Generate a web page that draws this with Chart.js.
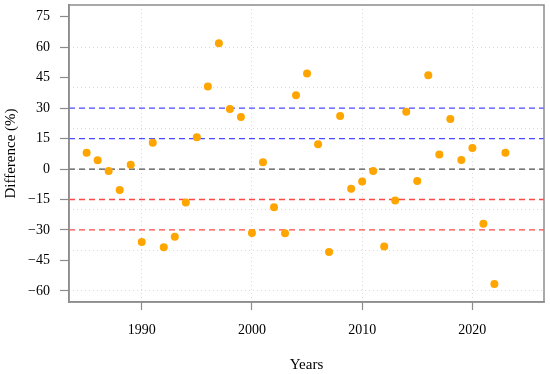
<!DOCTYPE html>
<html>
<head>
<meta charset="utf-8">
<script src="https://cdn.jsdelivr.net/npm/chart.js@4/dist/chart.umd.min.js"></script>
<style>
  html, body { margin: 0; padding: 0; background: #fff; }
  #wrap { width: 550px; height: 374px; }
</style>
</head>
<body>
<div id="wrap"><canvas id="canvas"></canvas></div>
<script>
let years = [1985, 1986, 1987, 1988, 1989, 1990, 1991, 1992, 1993, 1994,
             1995, 1996, 1997, 1998, 1999, 2000, 2001, 2002, 2003, 2004,
             2005, 2006, 2007, 2008, 2009, 2010, 2011, 2012, 2013, 2014,
             2015, 2016, 2017, 2018, 2019, 2020, 2021, 2022, 2023];
let difference = [8.0, 4.3, -1.0, -10.3, 2.1, -36.0, 13.0, -38.5, -33.3, -16.5,
                  15.7, 40.7, 61.9, 29.6, 25.6, -31.5, 3.3, -18.8, -31.6, 36.3,
                  47.1, 12.2, -40.9, 26.1, -9.7, -6.2, -1.0, -38.1, -15.5, 28.2,
                  -5.9, 46.2, 7.2, 24.6, 4.4, 10.3, -26.9, -56.6, 8.0];
let yTicks = [-60, -45, -30, -15, 0, 15, 30, 45, 60, 75];
let yGrid = [-60, -40, -20, 0, 20, 40, 60];
let xTicks = [1990, 2000, 2010, 2020];
let refLines = [
  { value: 30, color: '#4a4aff' },
  { value: 15, color: '#4a4aff' },
  { value: 0, color: '#505050' },
  { value: -15, color: '#ff4848' },
  { value: -30, color: '#ff4848' }
];

let pontos = [];
for (let i = 0; i < years.length; i++) {
  pontos.push({ x: years[i], y: difference[i] });
}

let datasets = [];
for (let i = 0; i < refLines.length; i++) {
  datasets.push({
    type: 'line',
    data: [{ x: 1983.4, y: refLines[i].value }, { x: 2026.5, y: refLines[i].value }],
    borderColor: refLines[i].color,
    borderWidth: 1.3,
    borderDash: [6, 4],
    pointRadius: 0,
    order: 2
  });
}
datasets.push({
  type: 'scatter',
  data: pontos,
  backgroundColor: '#ffa500',
  borderColor: '#ffa500',
  borderWidth: 0,
  pointRadius: 4,
  pointHoverRadius: 4,
  order: 1
});

let serif = "'Liberation Serif', 'DejaVu Serif', serif";

let frame = {
  id: 'frame',
  afterDraw(chart) {
    let a = chart.chartArea;
    let ctx = chart.ctx;
    ctx.save();
    ctx.strokeStyle = '#8c8c8c';
    ctx.lineWidth = 1.5;
    ctx.strokeRect(a.left, a.top, a.right - a.left, a.bottom - a.top);
    ctx.restore();
  }
};

let configuracao = {
  data: { datasets: datasets },
  options: {
    responsive: true,
    maintainAspectRatio: false,
    animation: false,
    layout: { padding: { top: 5, right: 6, left: 0, bottom: 0 } },
    plugins: { legend: { display: false }, tooltip: { enabled: false } },
    scales: {
      x: {
        type: 'linear',
        min: 1983.4,
        max: 2026.5,
        afterBuildTicks: function(scale) {
          scale.ticks = xTicks.map(v => ({ value: v }));
        },
        afterFit: function(scale) {
          scale.height = 72;
          scale.paddingLeft = 0;
          scale.paddingRight = 0;
        },
        ticks: {
          color: '#000',
          font: { family: serif, size: 14 },
          padding: 12,
          maxRotation: 0,
          callback: v => String(v)
        },
        grid: {
          color: '#d9d9d9',
          tickColor: '#8c8c8c',
          tickLength: 8,
          tickWidth: 1.2,
          tickBorderDash: [],
          lineWidth: 1
        },
        border: { display: true, color: '#8c8c8c', width: 1.5, dash: [1, 3] },
        title: {
          display: true,
          text: 'Years',
          color: '#000',
          font: { family: serif, size: 15 },
          padding: { top: 0, bottom: 0 }
        }
      },
      y: {
        type: 'linear',
        min: -65.5,
        max: 80.8,
        afterBuildTicks: function(scale) {
          scale.ticks = yTicks.map(v => ({ value: v }));
        },
        afterFit: function(scale) {
          scale.width = 69;
          scale.paddingTop = 0;
          scale.paddingBottom = 0;
        },
        ticks: {
          color: '#000',
          font: { family: serif, size: 14 },
          padding: 10,
          callback: v => (v < 0 ? '\u2212' + Math.abs(v) : String(v))
        },
        grid: {
          drawOnChartArea: false,
          tickColor: '#8c8c8c',
          tickLength: 9,
          tickWidth: 1.2
        },
        border: { display: true, color: '#8c8c8c', width: 1.5 },
        title: {
          display: true,
          text: 'Difference (%)',
          color: '#000',
          font: { family: serif, size: 15 },
          padding: { top: 2, bottom: 0 }
        }
      },
      yGrid: {
        type: 'linear',
        position: 'left',
        min: -65.5,
        max: 80.8,
        afterBuildTicks: function(scale) {
          scale.ticks = yGrid.map(v => ({ value: v }));
        },
        afterFit: function(scale) {
          scale.width = 0;
          scale.paddingTop = 0;
          scale.paddingBottom = 0;
        },
        ticks: { display: false },
        grid: { color: '#d9d9d9', drawTicks: false, lineWidth: 1 },
        border: { display: false, dash: [1, 3] }
      }
    }
  },
  plugins: [frame]
};

let chart = new Chart(document.getElementById('canvas'), configuracao);
</script>
</body>
</html>
